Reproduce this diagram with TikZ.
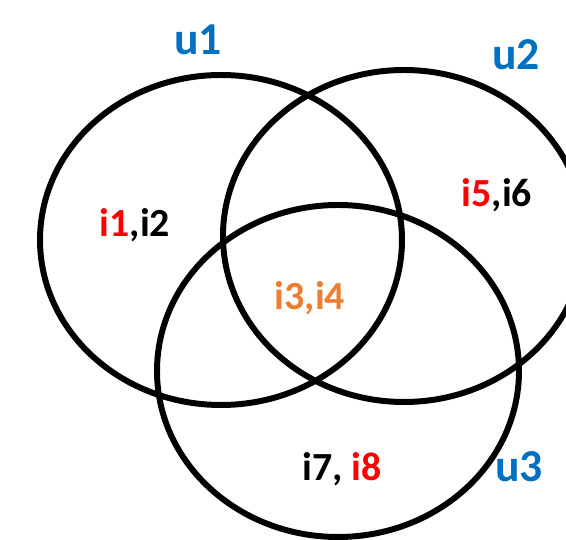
\documentclass[tikz,border=0pt]{standalone}
\usepackage{fontspec}
\setmainfont{Carlito}
\definecolor{ublue}{HTML}{0070C0}
\definecolor{ired}{HTML}{FF0000}
\definecolor{iorange}{HTML}{ED7D31}
\tikzset{
  setring/.style={draw=black, line width=3.4pt},
  ulabel/.style={text=ublue, font=\fontsize{26}{30}\selectfont\bfseries, inner sep=0pt},
  ilabel/.style={font=\fontsize{22.7}{27}\selectfont\bfseries, inner sep=0pt}
}
\begin{document}
\begin{tikzpicture}[x=0.02cm, y=-0.02cm]
  \useasboundingbox (0,0) rectangle (566,540);
  \clip (0,0) rectangle (566,540);
  \fill[white] (0,0) rectangle (566,540);
  \draw[setring] (221,240) ellipse [x radius=181, y radius=165];
  \draw[setring] (404,236) ellipse [x radius=181, y radius=166];
  \draw[setring] (338,371) ellipse [x radius=181, y radius=166];
  \node[ulabel] (u1) at (198,40) {u1};
  \node[ulabel] (u2) at (516,55) {u2};
  \node[ulabel] (u3) at (519,467) {u3};
  \node[ilabel] (a) at (135,225) {\textcolor{ired}{i1},i2};
  \node[ilabel, text=iorange] (b) at (310,298) {i3,i4};
  \node[ilabel] (c) at (497,195) {\textcolor{ired}{i5},i6};
  \node[ilabel] (d) at (342,469) {i7, \textcolor{ired}{i8}};
\end{tikzpicture}
\end{document}
